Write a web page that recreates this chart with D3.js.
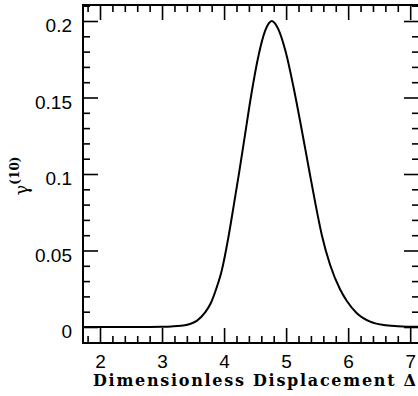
<!DOCTYPE html>
<html>
<head>
<meta charset="utf-8">
<script src="https://cdn.jsdelivr.net/npm/d3@7"></script>
<style>
  html, body { margin: 0; padding: 0; background: #fff; }
  svg { display: block; }
</style>
</head>
<body>
<svg id="chart" width="418" height="396"></svg>
<script>
// ---- data ----
const xValues = [1.73, 2.2, 2.6, 3.0, 3.15, 3.3, 3.45, 3.56, 3.694, 3.785, 3.882, 3.963, 4.069, 4.15, 4.247, 4.339, 4.435, 4.553, 4.661, 4.72, 4.77, 4.82, 4.876, 4.995, 5.118, 5.226, 5.306, 5.376, 5.468, 5.576, 5.71, 5.871, 5.979, 6.14, 6.355, 6.57, 6.8, 6.95, 7.13];
const yValues = [0.0, 0.0, 0.0, 0.0002, 0.0004, 0.0008, 0.002, 0.004, 0.0095, 0.0155, 0.026, 0.037, 0.0585, 0.078, 0.102, 0.126, 0.151, 0.177, 0.1935, 0.1985, 0.2, 0.1985, 0.1945, 0.1795, 0.157, 0.1345, 0.117, 0.1015, 0.0815, 0.06, 0.0405, 0.0245, 0.017, 0.009, 0.0035, 0.0013, 0.0005, 0.0002, 0.0001];
const xTickValues = [2, 3, 4, 5, 6, 7];
const xTickLabels = ["2", "3", "4", "5", "6", "7"];
const yTickValues = [0, 0.05, 0.1, 0.15, 0.2];
const yTickLabels = ["0", "0.05", "0.1", "0.15", "0.2"];
const xTitle = "Dimensionless Displacement \u0394";
const yTitleMain = "\u03b3";
const yTitleSup = "(10)";

// ---- layout ----
const svg = d3.select("#chart");
const mLeft = 83, mRight = 419, mTop = 5, mBottom = 343;

const x = d3.scaleLinear().domain([1.726, 7.142]).range([mLeft, mRight]);
const y = d3.scaleLinear().domain([-0.01046, 0.21046]).range([mBottom, mTop]);

const xMinor = d3.range(1.8, 7.15, 0.2).map(v => +v.toFixed(2)).filter(v => Math.abs(v - Math.round(v)) > 1e-6);
const yMinor = d3.range(-0.01, 0.2105, 0.01).map(v => +v.toFixed(3)).filter(v => Math.abs(v / 0.05 - Math.round(v / 0.05)) > 1e-6);

const tickStyle = g => {
  g.select(".domain").remove();
  g.selectAll(".tick line").attr("stroke", "#000").attr("stroke-width", 1.6);
};

// minor ticks on all four sides
svg.append("g").attr("transform", `translate(${mLeft},0)`)
  .call(d3.axisLeft(y).tickValues(yMinor).tickSize(-7).tickFormat(""))
  .call(tickStyle);
svg.append("g").attr("transform", `translate(${mRight},0)`)
  .call(d3.axisRight(y).tickValues(yMinor).tickSize(-7).tickFormat(""))
  .call(tickStyle);
svg.append("g").attr("transform", `translate(0,${mBottom})`)
  .call(d3.axisBottom(x).tickValues(xMinor).tickSize(-7).tickFormat(""))
  .call(tickStyle);
svg.append("g").attr("transform", `translate(0,${mTop})`)
  .call(d3.axisTop(x).tickValues(xMinor).tickSize(-7).tickFormat(""))
  .call(tickStyle);

// major ticks + labels
const yAxis = svg.append("g").attr("transform", `translate(${mLeft},0)`)
  .call(d3.axisLeft(y).tickValues(yTickValues).tickSize(-15).tickPadding(11)
    .tickFormat((d, i) => yTickLabels[i]))
  .call(tickStyle);
yAxis.selectAll("text").attr("y", 4.5);

svg.append("g").attr("transform", `translate(${mRight},0)`)
  .call(d3.axisRight(y).tickValues(yTickValues).tickSize(-15).tickFormat(""))
  .call(tickStyle);

svg.append("g").attr("transform", `translate(0,${mBottom})`)
  .call(d3.axisBottom(x).tickValues(xTickValues).tickSize(-15).tickPadding(12)
    .tickFormat((d, i) => xTickLabels[i]))
  .call(tickStyle);

svg.append("g").attr("transform", `translate(0,${mTop})`)
  .call(d3.axisTop(x).tickValues(xTickValues).tickSize(-15).tickFormat(""))
  .call(tickStyle);

svg.selectAll("g.tick text")
  .attr("fill", "#000")
  .style("font-family", "'Liberation Sans', Arial, Helvetica, sans-serif")
  .style("font-size", "19px");

// frame
svg.append("rect")
  .attr("x", mLeft).attr("y", mTop)
  .attr("width", mRight - mLeft).attr("height", mBottom - mTop)
  .attr("fill", "none").attr("stroke", "#000").attr("stroke-width", 2);

// curve
const pts = xValues.map((v, i) => [v, yValues[i]]);
svg.append("path")
  .datum(pts)
  .attr("fill", "none")
  .attr("stroke", "#000")
  .attr("stroke-width", 2)
  .attr("stroke-linejoin", "round")
  .attr("d", d3.line().x(d => x(d[0])).y(d => y(d[1])).curve(d3.curveMonotoneX));

// x title
svg.append("text")
  .attr("x", 93).attr("y", 386)
  .attr("textLength", 323).attr("lengthAdjust", "spacing")
  .style("font-family", "'DejaVu Serif', 'Liberation Serif', serif")
  .style("font-size", "16px")
  .style("font-weight", "bold")
  .attr("fill", "#000")
  .text(xTitle);

// y title
const yt = svg.append("text")
  .attr("transform", "translate(28,176) rotate(-90)")
  .attr("text-anchor", "middle")
  .attr("fill", "#000")
  .style("font-family", "'DejaVu Serif', 'Liberation Serif', serif")
  .style("font-size", "18px");
yt.append("tspan").text(yTitleMain);
yt.append("tspan").attr("dy", -9).style("font-size", "12px").style("font-weight", "bold").text(yTitleSup);
</script>
</body>
</html>
